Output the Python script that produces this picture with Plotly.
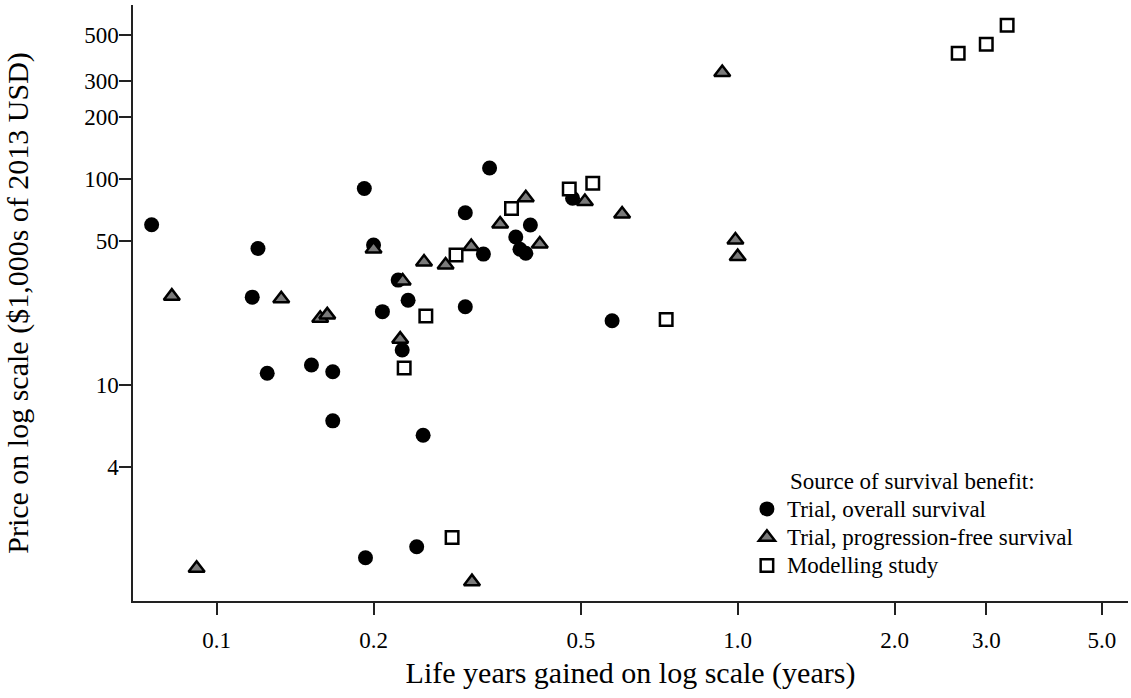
import plotly.graph_objects as go

# Trial, overall survival
os_x = [0.075, 0.12, 0.117, 0.192, 0.2, 0.223, 0.233, 0.208, 0.152, 0.125, 0.167, 0.167,
        0.249, 0.227, 0.334, 0.30, 0.325, 0.30, 0.375, 0.40, 0.382, 0.392, 0.482, 0.574,
        0.193, 0.242]
os_y = [60, 46, 26.7, 90, 47.8, 32.3, 25.8, 22.7, 12.5, 11.4, 11.6, 6.7,
        5.7, 14.8, 113, 68.6, 43.2, 24, 52.3, 59.8, 45.6, 43.6, 80.6, 20.5,
        1.45, 1.64]

# Trial, progression-free survival
pfs_x = [0.082, 0.133, 0.158, 0.163, 0.2, 0.2275, 0.25, 0.225, 0.0915, 0.309,
         0.275, 0.308, 0.35, 0.392, 0.417, 0.509, 0.60, 0.99, 1.0, 0.934]
pfs_y = [27, 26.2, 21.1, 21.9, 45.7, 32, 39.5, 16.7, 1.29, 1.11,
         38.2, 47, 60.5, 81, 48.4, 77.8, 67.6, 50.6, 42, 329]

# Modelling study
mod_x = [0.475, 0.527, 0.368, 0.288, 0.252, 0.729, 0.229, 0.283, 2.65, 3.0, 3.29]
mod_y = [89.4, 95.3, 72, 42.8, 21.6, 20.8, 12.1, 1.82, 408, 451, 557]

x_ticks = [0.1, 0.2, 0.5, 1, 2, 3, 5]
x_ticktext = ["0.1", "0.2", "0.5", "1.0", "2.0", "3.0", "5.0"]
y_ticks = [4, 10, 50, 100, 200, 300, 500]
y_ticktext = ["4", "10", "50", "100", "200", "300", "500"]

series_names = ["Trial, overall survival", "Trial, progression-free survival", "Modelling study"]
legend_title = "Source of survival benefit:"

FONT = "Liberation Serif, Times New Roman, serif"


def big(s):
    return '<span style="font-size:23px">' + s + '</span>'


fig = go.Figure()
fig.add_trace(go.Scatter(
    x=os_x, y=os_y, mode="markers", name=big(series_names[0]),
    marker=dict(symbol="circle", size=15, color="black", line=dict(width=0))))
fig.add_trace(go.Scatter(
    x=pfs_x, y=pfs_y, mode="markers", name=big(series_names[1]),
    marker=dict(symbol="triangle-up", size=14, color="#7a7a7a",
                line=dict(width=2.5, color="black"))))
fig.add_trace(go.Scatter(
    x=mod_x, y=mod_y, mode="markers", name=big(series_names[2]),
    marker=dict(symbol="square", size=12.5, color="white",
                line=dict(width=2.5, color="black"))))

axis_common = dict(
    showline=True, linecolor="#222", linewidth=1.5,
    ticks="outside", ticklen=12, tickwidth=1.5, tickcolor="#222",
    showgrid=False, zeroline=False, mirror=False,
    tickfont=dict(family=FONT, size=23, color="black"),
)

fig.update_layout(
    width=1131, height=698,
    margin=dict(l=133, r=3, t=5, b=97),
    paper_bgcolor="white", plot_bgcolor="white",
    font=dict(family=FONT, color="black"),
    xaxis=dict(type="log", range=[-1.1607, 0.7492], tickvals=x_ticks,
               ticktext=x_ticktext,
               title=dict(text="Life years gained on log scale (years)",
                          font=dict(family=FONT, size=30, color="black"),
                          standoff=10),
               ticklabelstandoff=6,
               **axis_common),
    yaxis=dict(type="log", range=[-0.0485, 2.8447], tickvals=y_ticks,
               ticktext=y_ticktext,
               title=dict(text="Price on log scale ($1,000s of 2013 USD)",
                          font=dict(family=FONT, size=30, color="black"),
                          standoff=47),
               ticklabelstandoff=-4,
               **axis_common),
    showlegend=True,
    legend=dict(x=0.617, y=0.1867, xanchor="left", yanchor="top",
                bgcolor="rgba(0,0,0,0)", borderwidth=0,
                font=dict(family=FONT, size=19.5, color="black"),
                itemclick=False),
    annotations=[dict(text=legend_title, xref="paper", yref="paper",
                      x=(788 - 133) / 995, y=(601 - 481.7) / 596,
                      xanchor="left", yanchor="middle", showarrow=False,
                      font=dict(family=FONT, size=23, color="black"))],
)

fig.write_html("out.html", config={"displayModeBar": False},
               post_script="document.body.style.margin='0';")
